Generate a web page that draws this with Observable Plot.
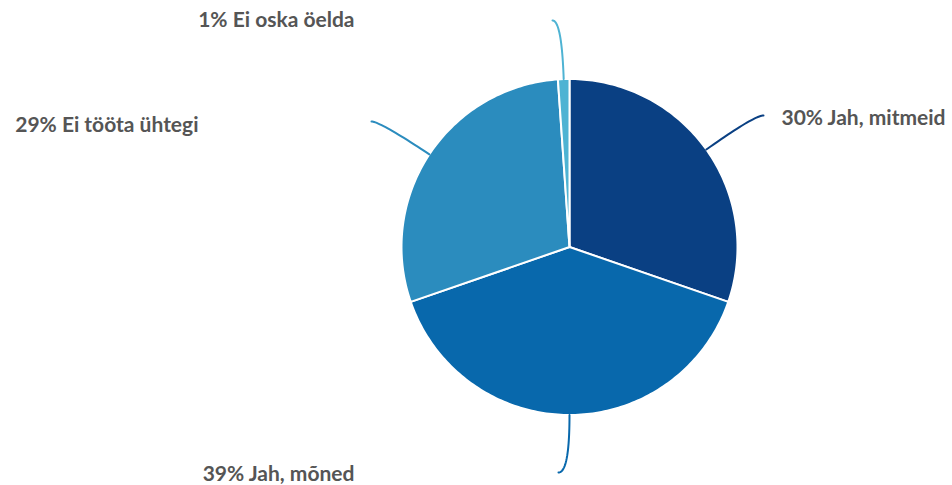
<!DOCTYPE html>
<html>
<head>
<meta charset="utf-8">
<script src="https://cdn.jsdelivr.net/npm/d3@7"></script>
<script src="https://cdn.jsdelivr.net/npm/@observablehq/plot@0.6"></script>
<style>
  html, body { margin: 0; padding: 0; background: #fff; }
  #chart { width: 952px; height: 485px; }
</style>
</head>
<body>
<div id="chart"></div>
<script>
// ---- data ----
const categories = ["Jah, mitmeid", "Jah, mõned", "Ei tööta ühtegi", "Ei oska öelda"];
const values = [30.3, 39.4, 29.2, 1.1];
const percentLabels = ["30%", "39%", "29%", "1%"];
const colors = ["#0a4083", "#0868ac", "#2b8cbe", "#4eb3d3"];

// ---- layout ----
const W = 952, H = 485;
const cx = 569, cy = 246.5, R = 168;
// leader end points (pixel layout)
const leaderEnd = [
  {x: 763, y: 115},
  {x: 558, y: 472},
  {x: 371, y: 121},
  {x: 552, y: 20}
];
const labelPos = [
  {x: 781, y: 118, anchor: "start"},
  {x: 354, y: 474, anchor: "end"},
  {x: 198, y: 125, anchor: "end"},
  {x: 354, y: 20, anchor: "end"}
];

const total = d3.sum(values);
let acc = 0;
const slices = categories.map((c, i) => {
  const a0 = acc / total * 2 * Math.PI;
  acc += values[i];
  const a1 = acc / total * 2 * Math.PI;
  return {cat: c, i, a0, a1, mid: (a0 + a1) / 2};
});

// wedge outlines (geometry only)
const wedgePts = [];
for (const s of slices) {
  wedgePts.push({cat: s.cat, x: cx, y: cy});
  const steps = Math.max(2, Math.ceil((s.a1 - s.a0) / (Math.PI / 180)));
  for (let k = 0; k <= steps; k++) {
    const a = s.a0 + (s.a1 - s.a0) * k / steps;
    wedgePts.push({cat: s.cat, x: cx + R * Math.sin(a), y: cy - R * Math.cos(a)});
  }
  wedgePts.push({cat: s.cat, x: cx, y: cy});
}

// leader curves: quadratic from slice edge, radial start, horizontal end
const leaderPts = [];
for (const s of slices) {
  const dx = Math.sin(s.mid), dy = -Math.cos(s.mid);
  const p0 = {x: cx + R * dx, y: cy + R * dy};
  const e = leaderEnd[s.i];
  const t = Math.abs(dy) > 1e-6 ? (e.y - p0.y) / dy : 0;
  const c = {x: p0.x + dx * t, y: e.y};
  const n = 24;
  for (let k = 0; k <= n; k++) {
    const u = k / n;
    leaderPts.push({
      cat: s.cat,
      x: (1 - u) * (1 - u) * p0.x + 2 * (1 - u) * u * c.x + u * u * e.x,
      y: (1 - u) * (1 - u) * p0.y + 2 * (1 - u) * u * c.y + u * u * e.y
    });
  }
}

const labels = slices.map(s => ({
  text: percentLabels[s.i] + " " + s.cat,
  x: labelPos[s.i].x, y: labelPos[s.i].y, anchor: labelPos[s.i].anchor
}));

const chart = Plot.plot({
  width: W,
  height: H,
  margin: 0,
  x: {domain: [0, W], range: [0, W], axis: null},
  y: {domain: [0, H], range: [0, H], axis: null},
  color: {domain: categories, range: colors},
  style: {background: "#fff"},
  marks: [
    Plot.line(wedgePts, {x: "x", y: "y", z: "cat", fill: "cat", stroke: "#fff", strokeWidth: 2, strokeLinejoin: "round", curve: "linear"}),
    Plot.line(leaderPts, {x: "x", y: "y", z: "cat", stroke: "cat", strokeWidth: 2, curve: "linear"}),
    Plot.text(labels.filter(d => d.anchor === "start"), {x: "x", y: "y", text: "text", textAnchor: "start", fontSize: 21, fontWeight: "bold", fill: "#555", fontFamily: "Lato"}),
    Plot.text(labels.filter(d => d.anchor === "end"), {x: "x", y: "y", text: "text", textAnchor: "end", fontSize: 21, fontWeight: "bold", fill: "#555", fontFamily: "Lato"})
  ]
});
document.getElementById("chart").appendChild(chart);
</script>
</body>
</html>
